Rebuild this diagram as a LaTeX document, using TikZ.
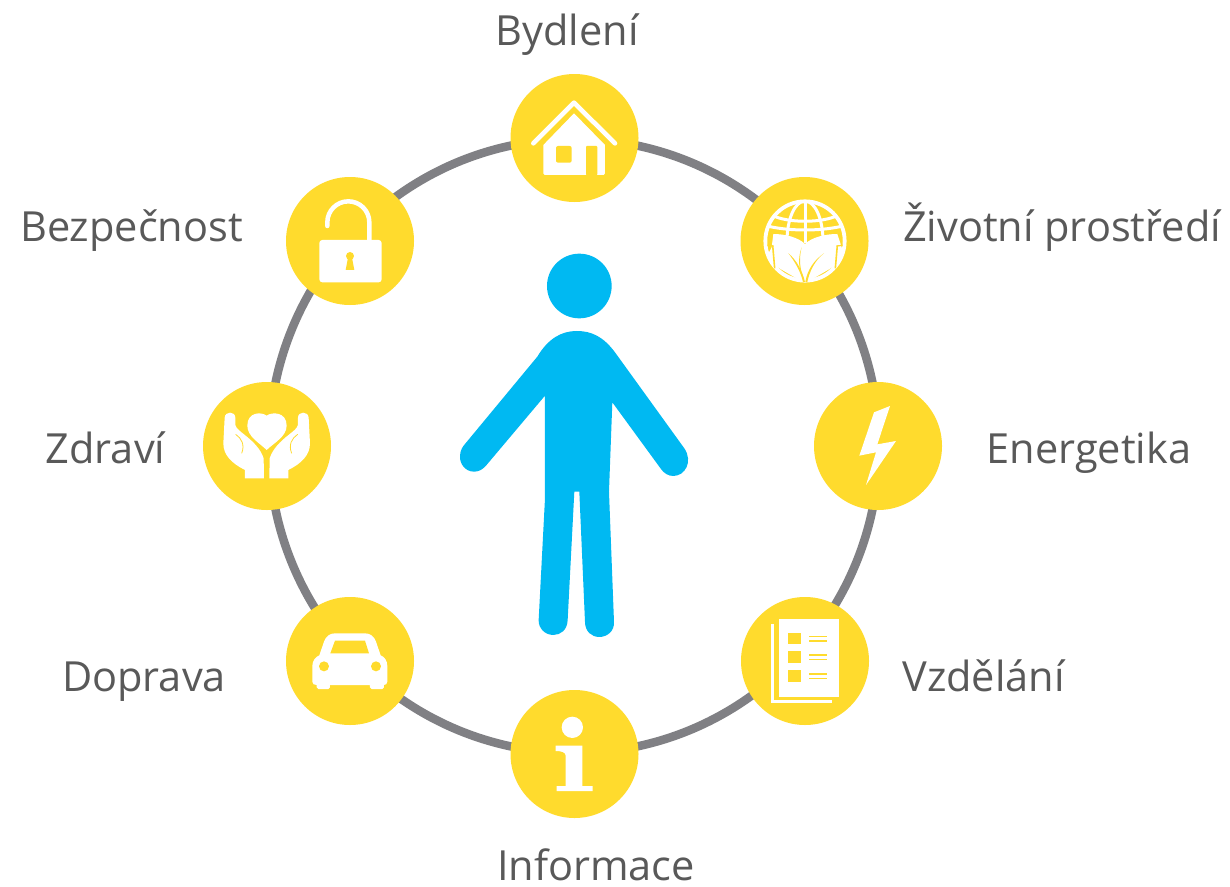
\documentclass[tikz,border=0pt]{standalone}
\usepackage{fontspec}
\setmainfont{Open Sans}
\definecolor{sun}{HTML}{FFDB2D}
\definecolor{ringgrey}{HTML}{808084}
\definecolor{labelgrey}{HTML}{595959}
\definecolor{manblue}{HTML}{00B9F2}
\tikzset{
  disc/.style={circle,fill=sun,minimum size=128pt,inner sep=0pt},
  lab/.style={text=labelgrey,anchor=base,inner sep=0pt,font=\fontsize{41.5}{41.5}\selectfont},
  zoomat/.style={shift={(#1)},x=0.3333pt,y=-0.3333pt},
  ico/.style={fill=white,draw=none},
  hole/.style={fill=sun,draw=none}
}
\begin{document}
\begin{tikzpicture}[x=1pt,y=-1pt]
\useasboundingbox (0,0) rectangle (1230,886);
\fill[white] (0,0) rectangle (1230,886);
\coordinate (hub) at (574,446);
\draw[ringgrey,line width=8.5pt] (hub) ellipse [x radius=305pt,y radius=307pt];
\node[disc] (bydleni) at (574.5,138) {};
\node[disc] (zivotni) at (804.5,241) {};
\node[disc] (energetika) at (878,446) {};
\node[disc] (vzdelani) at (805,661) {};
\node[disc] (informace) at (574.5,754) {};
\node[disc] (doprava) at (350,661) {};
\node[disc] (zdravi) at (267,446) {};
\node[disc] (bezpecnost) at (350,241) {};
\node[lab] (t1) at (567,45) {Bydlení};
\node[lab] (t2) at (1062,241) {Životní prostředí};
\node[lab] (t3) at (1089,463) {Energetika};
\node[lab] (t4) at (983.5,691) {Vzdělání};
\node[lab] (t5) at (596,880) {Informace};
\node[lab] (t6) at (144,691) {Doprava};
\node[lab] (t7) at (105.5,463) {Zdraví};
\node[lab] (t8) at (131.5,241) {Bezpečnost};
% person
\begin{scope}[zoomat={450,245}]
\fill[manblue] (388,123) circle [radius=97];
\fill[manblue] (380,258) .. controls (425,258) and (460,275) .. (495,322)
 -- (703,610) .. controls (730,650) and (705,693) .. (670,693)
 .. controls (655,693) and (642,685) .. (633,672)
 -- (487,472) -- (477,740) -- (492,1130)
 .. controls (494,1160) and (470,1176) .. (448,1176)
 .. controls (425,1176) and (405,1160) .. (405,1130)
 -- (388,740) -- (373,740) -- (353,1125)
 .. controls (352,1155) and (332,1170) .. (310,1170)
 .. controls (285,1170) and (265,1150) .. (266,1125)
 -- (285,760) -- (285,452) -- (108,662)
 .. controls (95,676) and (85,680) .. (72,680)
 .. controls (45,680) and (28,655) .. (30,632)
 .. controls (31,615) and (38,605) .. (45,597)
 -- (262,335) .. controls (295,280) and (335,258) .. (380,258) -- cycle;
\end{scope}
% house
\begin{scope}[zoomat={500,60}]
\draw[white,line width=4.6pt,line cap=round,line join=round] (100,250) -- (222,128) -- (345,250);
\fill[ico] (222,160) -- (315,255) -- (315,340) .. controls (315,344) .. (311,345) -- (134,345) .. controls (130,344) .. (130,340) -- (130,255) -- cycle;
\fill[hole,rounded corners=2pt] (168,258) rectangle (215,308);
\fill[hole,rounded corners=1pt] (258,258) rectangle (292,346);
\end{scope}
% globe
\begin{scope}[zoomat={730,160}]
\draw[white,line width=3.8pt] (225,243) circle [radius=119];
\begin{scope}
\clip (225,243) circle [radius=119];
\draw[white,line width=3pt] (225,243) ellipse [x radius=54,y radius=120];
\draw[white,line width=3pt] (225,120) -- (225,250);
\draw[white,line width=3pt] (125,165) .. controls (170,190) and (280,190) .. (325,165);
\draw[white,line width=3pt] (100,195) .. controls (170,215) and (280,215) .. (350,195);
\fill[ico] (130,222) .. controls (165,222) and (205,232) .. (225,252)
 .. controls (245,232) and (285,222) .. (322,222) -- (335,262) -- (345,300) -- (225,370) -- (105,300) -- (125,262) -- cycle;
\end{scope}
\draw[sun,line width=1.2pt] (112,256) -- (130,258);
\draw[sun,line width=1.2pt] (338,256) -- (320,258);
\draw[sun,line width=1.6pt] (128,256) -- (134,325);
\draw[sun,line width=1.6pt] (322,256) -- (316,325);
\fill[hole] (175,280) .. controls (200,300) and (218,335) .. (225,366) -- (219,366) .. controls (212,335) and (195,305) .. (175,280) -- cycle;
\fill[hole] (282,280) .. controls (255,300) and (238,335) .. (232,366) -- (226,366) .. controls (232,330) and (252,300) .. (282,280) -- cycle;
\fill[hole] (215,262) .. controls (205,290) and (205,315) .. (214,345) -- (217,345) .. controls (208,315) and (208,290) .. (215,262) -- cycle;
\end{scope}
% bolt
\begin{scope}[zoomat={800,375}]
\fill[ico] (270,93) -- (222,112) -- (178,242) -- (228,232) -- (198,330) -- (288,198) -- (232,208) -- cycle;
\end{scope}
% document
\begin{scope}[zoomat={730,590}]
\fill[ico] (147,88) rectangle (327,320);
\draw[white,line width=2.5pt] (128,102) -- (128,335) -- (305,335);
\foreach \yy in {128,183,240}{
  \fill[hole] (175,\yy) rectangle (213,\yy+35);
  \draw[sun,line width=1.4pt] (237,\yy+12) -- (290,\yy+12);
  \draw[sun,line width=1.4pt] (237,\yy+25) -- (290,\yy+25);
}
\end{scope}
% info
\begin{scope}[zoomat={500,685}]
\fill[ico] (217,127) circle [radius=32];
\fill[ico] (167,182) -- (247,182) -- (247,303) -- (278,303) -- (278,318) -- (170,318) -- (170,303) -- (197,303) -- (197,212) .. controls (197,202) and (185,198) .. (167,198) -- cycle;
\end{scope}
% car
\begin{scope}[zoomat={275,590}]
\fill[ico] (112,275) -- (112,228) .. controls (112,212) and (122,200) .. (133,196) -- (147,155) .. controls (153,138) and (165,130) .. (180,130) -- (270,130) .. controls (285,130) and (297,138) .. (303,155) -- (317,196) .. controls (328,200) and (337,212) .. (337,228) -- (337,275) .. controls (337,282) and (332,285) .. (327,285) -- (327,292) .. controls (327,296) .. (322,297) -- (290,297) .. controls (285,296) .. (285,292) -- (285,285) -- (165,285) -- (165,292) .. controls (165,296) .. (160,297) -- (130,297) .. controls (125,296) .. (125,292) -- (125,285) .. controls (117,285) and (112,282) .. (112,275) -- cycle;
\fill[hole] (180,152) -- (270,152) -- (282,190) -- (166,190) -- cycle;
\fill[hole] (147,229) circle [radius=15];
\fill[hole] (303,229) circle [radius=15];
\end{scope}
% hands and heart
\begin{scope}[zoomat={190,375}]
\fill[ico] (230,122) .. controls (245,110) and (290,110) .. (290,152) .. controls (290,185) and (250,205) .. (230,225) .. controls (210,205) and (172,185) .. (172,152) .. controls (172,110) and (215,110) .. (230,122) -- cycle;
\foreach \sx/\ox in {1/0,-1/460}{
\begin{scope}[xshift=\ox*0.3333pt,xscale=\sx]
\fill[ico] (100,205) -- (104,128) .. controls (105,108) and (136,108) .. (136,128) -- (136,150) .. controls (140,162) and (150,168) .. (162,178) .. controls (190,200) and (212,222) .. (221,250) -- (222,310) -- (165,310) -- (165,285) .. controls (125,265) and (100,240) .. (100,205) -- cycle;
\draw[sun,line width=0.8pt] (137,178) .. controls (155,190) and (165,210) .. (155,235);
\end{scope}
}
\end{scope}
% lock
\begin{scope}[zoomat={275,165}]
\draw[white,line width=4.5pt,line cap=round] (157,183) -- (157,172) arc [start angle=180,end angle=360,radius=63] -- (283,230);
\fill[ico,rounded corners=3pt] (133,225) rectangle (320,352);
\fill[hole] (225,273) circle [radius=12];
\fill[hole] (219,278) -- (231,278) -- (238,315) -- (212,315) -- cycle;
\end{scope}
\end{tikzpicture}
\end{document}
